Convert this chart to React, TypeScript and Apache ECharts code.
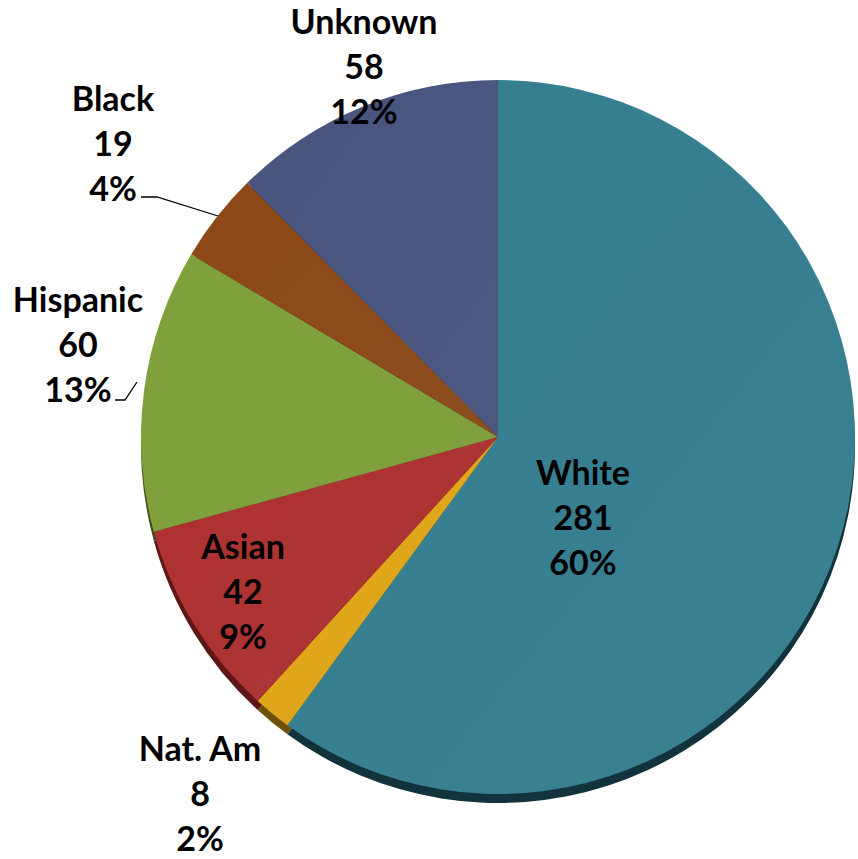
import React, { useEffect, useRef } from "react";
import * as echarts from "echarts";

const categories = ["White", "Nat. Am", "Asian", "Hispanic", "Black", "Unknown"];
const counts = [281, 8, 42, 60, 19, 58];

const topColors = ["#327B8C", "#DCA216", "#A92F2F", "#7B9B38", "#884616", "#45527B"];
const sideColors = ["#12333C", "#6E5008", "#5E1616", "#3E4F1A", "#43220A", "#222A40"];

// label placement (pixel centres of the 3-line label blocks)
const labelPos: Record<string, [number, number]> = {
  White: [583, 516],
  "Nat. Am": [200, 792],
  Asian: [243, 590],
  Hispanic: [78, 343],
  Black: [113, 142],
  Unknown: [364, 65],
};
const leaderLines: Record<string, number[][]> = {
  Black: [[218, 216], [157, 197], [141, 197]],
  Hispanic: [[137, 382], [125, 400], [115, 400]],
};

export default function App() {
  const ref = useRef<HTMLDivElement>(null);
  useEffect(() => {
    if (!ref.current) return;
    const chart = echarts.init(ref.current, undefined, { renderer: "svg" });
    const center = [498, 437];
    const radius = 357;
    chart.setOption({
      animation: false,
      backgroundColor: "#ffffff",
      series: [
        {
          type: "pie",
          silent: true,
          center: [center[0], center[1] + 9],
          radius: radius,
          startAngle: 90,
          clockwise: true,
          label: { show: false },
          labelLine: { show: false },
          itemStyle: { borderWidth: 0 },
          data: categories.map((n, i) => ({
            name: n,
            value: counts[i],
            itemStyle: { color: sideColors[i] },
          })),
          z: 1,
        },
        {
          type: "pie",
          center: center,
          radius: radius,
          startAngle: 90,
          clockwise: true,
          percentPrecision: 0,
          itemStyle: { borderWidth: 0 },
          label: {
            show: true,
            position: "outside",
            formatter: "{b}\n{c}\n{d}%",
            fontFamily: "Lato",
            fontWeight: "bold",
            fontSize: 34,
            lineHeight: 45,
            color: "#000000",
            align: "center",
            overflow: "none",
          },
          labelLine: { show: true, lineStyle: { color: "#000000", width: 1.3 } },
          labelLayout: (p: any) => {
            const name = categories[p.dataIndex];
            const pos = labelPos[name];
            const res: any = {
              x: pos[0],
              y: pos[1],
              align: "center",
              verticalAlign: "middle",
              hideOverlap: false,
            };
            if (leaderLines[name]) res.labelLinePoints = leaderLines[name];
            return res;
          },
          data: categories.map((n, i) => ({
            name: n,
            value: counts[i],
            itemStyle: {
              color: new echarts.graphic.LinearGradient(0, 0, 1, 1, [
                { offset: 0, color: echarts.color.lift(topColors[i], -0.04) },
                { offset: 1, color: echarts.color.lift(topColors[i], 0.04) },
              ]),
            },
            labelLine: { show: !!leaderLines[n] },
          })),
          z: 2,
        },
      ],
    });
    return () => chart.dispose();
  }, []);
  return (
    <div
      ref={ref}
      style={{ position: "fixed", left: 0, top: 0, width: 858, height: 859 }}
    />
  );
}
